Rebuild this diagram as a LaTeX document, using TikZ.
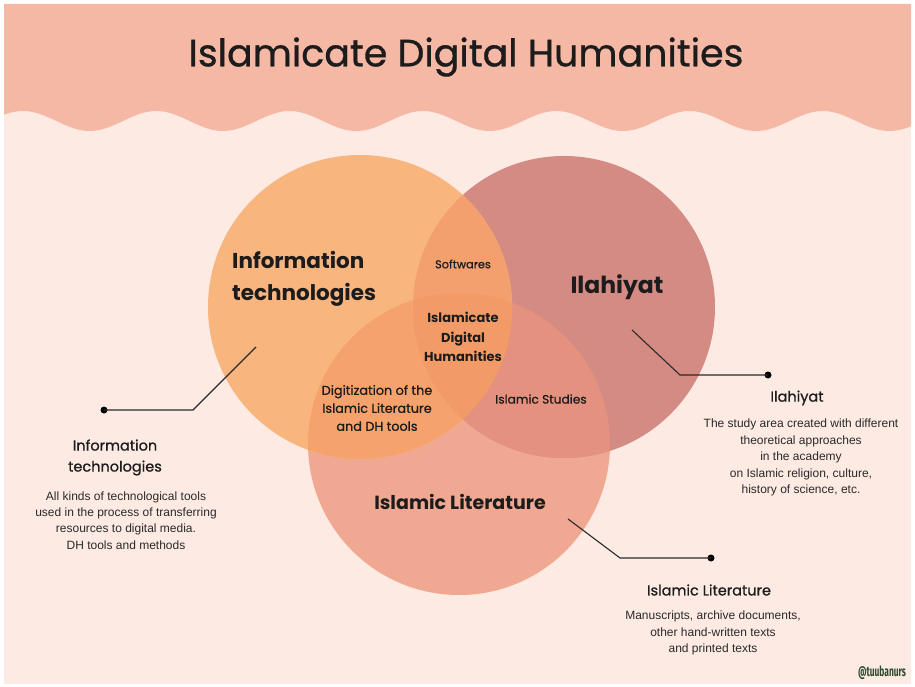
\documentclass[tikz,border=0pt]{standalone}
\usepackage{fontspec}
\usepackage{graphicx}
\setmainfont{Liberation Sans}
\newfontfamily\pop{Poppins}
\newfontfamily\popm[FakeBold=0.8]{Poppins}
\newfontfamily\fira{Fira Sans}
\definecolor{bgl}{HTML}{FCEAE3}
\definecolor{hdr}{HTML}{F5B8A5}
\definecolor{ora}{HTML}{F8B57E}
\definecolor{ila}{HTML}{D38B84}
\definecolor{lit}{HTML}{F0A892}
\definecolor{oi}{HTML}{F3A06E}
\definecolor{ol}{HTML}{F5A26C}
\definecolor{il}{HTML}{E4917F}
\definecolor{oil}{HTML}{F39B66}
\definecolor{ink}{HTML}{1C1C1C}
\definecolor{desc}{HTML}{2A2A2A}
\definecolor{sig}{HTML}{2E4A2E}
\begin{document}
\begin{tikzpicture}[x=1pt,y=-1pt,
  bighead/.style={font={\pop\bfseries\fontsize{21.5}{32}\selectfont},text=ink,inner sep=0pt},
  midtxt/.style={font={\popm\fontsize{12.8}{18}\selectfont},text=ink,align=center,inner sep=0pt},
  midbold/.style={font={\pop\bfseries\fontsize{13}{19.5}\selectfont},text=ink,align=center,inner sep=0pt},
  annhead/.style={font={\popm\fontsize{14.5}{21}\selectfont},text=ink,align=center,inner sep=0pt},
  anndesc/.style={font={\fontsize{12}{16.4}\selectfont},text=desc,align=center,inner sep=0pt},
  leader/.style={draw=desc,line width=1.1pt},
  dotnode/.style={circle,fill=black,inner sep=0pt,minimum size=7pt}]
\useasboundingbox (0,0) rectangle (915,687);
\fill[white] (0,0) rectangle (915,687);
\fill[bgl] (4,4) rectangle (911,684);
% header with wavy bottom
\fill[hdr] (4,4) -- plot[domain=4:911,samples=300] (\x,{121-10*cos(2.7007*(\x-23))}) -- (911,4) -- cycle;
\node[font={\popm\fontsize{38}{44}\selectfont},text=ink] (title) at (466,57) {Islamicate Digital Humanities};
% circles
\coordinate (O) at (360,307);
\coordinate (I) at (564,307);
\coordinate (L) at (459,444);
\fill[lit] (L) circle (151pt);
\fill[ila] (I) circle (151pt);
\fill[ora] (O) circle (152pt);
\begin{scope}
  \clip (L) circle (151pt);
  \fill[il] (I) circle (151pt);
  \fill[ol] (O) circle (152pt);
\end{scope}
\begin{scope}
  \clip (I) circle (151pt);
  \fill[oi] (O) circle (152pt);
  \clip (L) circle (151pt);
  \fill[oil] (O) circle (152pt);
\end{scope}
% texts in circles
\node[bighead,align=left,anchor=west] (itc) at (232,279) {Information\\technologies};
\node[bighead,font={\pop\bfseries\fontsize{23.5}{32}\selectfont}] (ilc) at (617,287) {Ilahiyat};
\node[bighead,font={\pop\bfseries\fontsize{19}{32}\selectfont}] (lic) at (460,502) {Islamic Literature};
\node[midtxt,font={\popm\fontsize{11.3}{14}\selectfont}] (soft) at (463,264) {Softwares};
\node[midbold] (idh) at (463,337) {Islamicate\\Digital\\Humanities};
\node[midtxt] (dig) at (377,408) {Digitization of the\\Islamic Literature\\and DH tools};
\node[midtxt,font={\popm\fontsize{12.2}{18}\selectfont}] (ist) at (541,399) {Islamic Studies};
% annotations
\node[dotnode] (d1) at (104,410) {};
\coordinate (e1) at (193,410);
\coordinate (s1) at (256,347);
\draw[leader] (d1.center) -- (e1) -- (s1);
\node[annhead] (h1) at (115,457.5) {Information\\technologies};
\node[anndesc] (t1) at (126,520.5) {All kinds of technological tools\\used in the process of transferring\\resources to digital media.\\DH tools and methods};
\node[dotnode] (d2) at (768,375) {};
\coordinate (e2) at (680,375);
\coordinate (s2) at (632,330);
\draw[leader] (s2) -- (e2) -- (d2.center);
\node[annhead] (h2) at (797,398) {Ilahiyat};
\node[anndesc] (t2) at (801,457.5) {The study area created with different\\theoretical approaches\\in the academy\\on Islamic religion, culture,\\history of science, etc.};
\node[dotnode] (d3) at (711,558) {};
\coordinate (e3) at (620,558);
\coordinate (s3) at (568,519);
\draw[leader] (s3) -- (e3) -- (d3.center);
\node[annhead] (h3) at (709,590) {Islamic Literature};
\node[anndesc] (t3) at (713,633) {Manuscripts, archive documents,\\other hand-written texts\\and printed texts};
\node[text=sig,inner sep=0pt,font={\fira\bfseries\fontsize{14}{14}\selectfont}] (sig) at (882,673) {\scalebox{0.6}[1]{@tuubanurs}};
\end{tikzpicture}
\end{document}
